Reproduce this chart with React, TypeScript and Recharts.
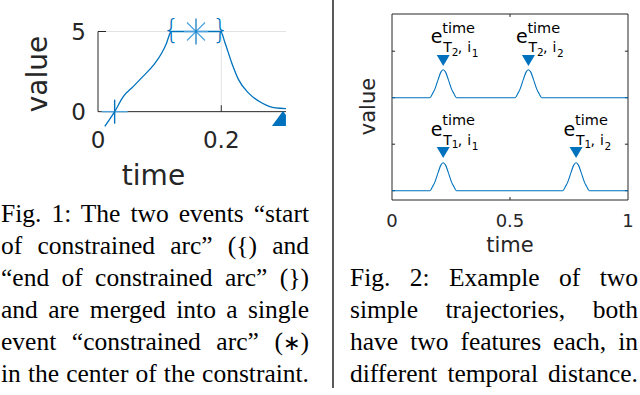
import React from 'react';
import { ComposedChart, Line, Scatter, XAxis, YAxis, ReferenceLine, ReferenceArea } from 'recharts';

const BLUE = '#0072BD';
const LIGHT_BLUE = '#4DA3DF';
const AXIS = '#262626';
const GRID = '#e3e3e3';
const SANS = 'DejaVu Sans';
const SERIF = 'Liberation Serif';

// Fig. 1 - one trajectory with a constrained arc
const arcTime = [0.011, 0.027, 0.041, 0.057, 0.073, 0.09, 0.103, 0.111, 0.117, 0.119, 0.159, 0.199, 0.206, 0.217, 0.228, 0.244, 0.266, 0.288, 0.305];
const arcValue = [-0.92, 0, 0.94, 1.56, 2.2, 2.9, 3.63, 4.25, 4.9, 5, 5, 5, 4.3, 3.04, 2.0, 1.17, 0.54, 0.23, 0.19];
const eventTime = [0.027, 0.119, 0.159, 0.199, 0.3];
const eventValue = [0, 5, 5, 5, -0.45];
const eventKind = ['plus', 'open', 'star', 'close', 'triangle'];
const fig1TimeTicks = [0, 0.2];
const fig1ValueTicks = [0, 5];

// Fig. 2 - two trajectories, two features each
const traj1Time = [0, 0.161, 0.172, 0.182, 0.196, 0.207, 0.217, 0.227, 0.238, 0.252, 0.262, 0.273, 0.724, 0.735, 0.745, 0.759, 0.77, 0.78, 0.79, 0.801, 0.815, 0.825, 0.836, 1];
const traj1Value = [0, 0, 0.045, 0.095, 0.2, 0.275, 0.3, 0.275, 0.2, 0.095, 0.045, 0, 0, 0.045, 0.095, 0.2, 0.275, 0.3, 0.275, 0.2, 0.095, 0.045, 0, 0];
const traj2Time = [0, 0.161, 0.172, 0.182, 0.196, 0.207, 0.217, 0.227, 0.238, 0.252, 0.262, 0.273, 0.522, 0.533, 0.543, 0.557, 0.568, 0.578, 0.588, 0.599, 0.613, 0.623, 0.634, 1];
const traj2Value = [1, 1, 1.045, 1.095, 1.2, 1.275, 1.3, 1.275, 1.2, 1.095, 1.045, 1, 1, 1.045, 1.095, 1.2, 1.275, 1.3, 1.275, 1.2, 1.095, 1.045, 1, 1];
const featureTime = [0.217, 0.578, 0.217, 0.78];
const featureValue = [1.395, 1.395, 0.405, 0.405];
const featureTraj = ['2', '2', '1', '1'];
const featureIdx = ['1', '2', '1', '2'];
const fig2TimeTicks = [0, 0.5, 1];
const fig2ValueTicks = [0, 0.5, 1, 1.5];

const caption1 = [
  'Fig. 1: The two events \u201Cstart',
  'of constrained arc\u201D ({) and',
  '\u201Cend of constrained arc\u201D (})',
  'and are merged into a single',
  'event \u201Cconstrained arc\u201D (\u2217)',
  'in the center of the constraint.',
];
const caption2 = [
  'Fig. 2: Example of two',
  'simple trajectories, both',
  'have two features each, in',
  'different temporal distance.',
];

const arcData = arcTime.map((t, i) => ({ t, v: arcValue[i] }));
const eventData = eventTime.map((t, i) => ({ t, v: eventValue[i], kind: eventKind[i] }));
const traj1Data = traj1Time.map((t, i) => ({ t, v: traj1Value[i] }));
const traj2Data = traj2Time.map((t, i) => ({ t, v: traj2Value[i] }));
const featureData = featureTime.map((t, i) => ({ t, v: featureValue[i], traj: featureTraj[i], idx: featureIdx[i] }));

const EventMarker = (props: any) => {
  const { cx, cy, payload } = props;
  if (cx == null || cy == null) return null;
  switch (payload.kind) {
    case 'plus':
      return (
        <g strokeWidth={1.4}>
          <line x1={cx - 13} y1={cy} x2={cx + 13} y2={cy} stroke={LIGHT_BLUE} />
          <line x1={cx} y1={cy - 12} x2={cx} y2={cy + 12} stroke={BLUE} />
        </g>
      );
    case 'star':
      return (
        <g strokeWidth={1.2}>
          <line x1={cx - 9} y1={cy - 9} x2={cx + 9} y2={cy + 9} stroke={LIGHT_BLUE} />
          <line x1={cx - 9} y1={cy + 9} x2={cx + 9} y2={cy - 9} stroke={LIGHT_BLUE} />
          <line x1={cx - 12} y1={cy} x2={cx + 12} y2={cy} stroke={LIGHT_BLUE} />
          <line x1={cx} y1={cy - 13} x2={cx} y2={cy + 13} stroke={BLUE} />
        </g>
      );
    case 'open':
    case 'close':
      return (
        <text x={cx} y={cy - 3} fontSize={27} fontFamily={SANS} fill={BLUE} textAnchor="middle" dominantBaseline="central" fontWeight={300}>
          {payload.kind === 'open' ? '{' : '}'}
        </text>
      );
    default:
      // filled upward triangle, cut off by the right edge of the axes
      return <polygon points={`${cx},${cy - 8} ${cx + 3},${cy - 4} ${cx + 3},${cy + 7} ${cx - 11},${cy + 7}`} fill={BLUE} />;
  }
};

const FeatureMarker = (props: any) => {
  const { cx, cy, payload } = props;
  if (cx == null || cy == null) return null;
  return (
    <g fontFamily={SANS} fill="#000">
      <polygon points={`${cx - 6.5},${cy - 6} ${cx + 6.5},${cy - 6} ${cx},${cy + 5}`} fill={BLUE} />
      <text x={cx - 12.5} y={cy - 17.5} fontSize={19}>e</text>
      <text x={cx - 1} y={cy - 28} fontSize={14.5}>time</text>
      <text x={cx} y={cy - 8.5} fontSize={14}>T</text>
      <text x={cx + 8.5} y={cy - 5} fontSize={10.5}>{payload.traj}</text>
      <text x={cx + 14.5} y={cy - 8.5} fontSize={14}>,</text>
      <text x={cx + 24} y={cy - 8.5} fontSize={14}>i</text>
      <text x={cx + 28.5} y={cy - 3.5} fontSize={10.5}>{payload.idx}</text>
    </g>
  );
};

const CaptionText = ({ text }: { text: string }) => {
  const parts = text.split('\u2217');
  if (parts.length === 1) return <>{text}</>;
  return (
    <>
      {parts[0]}
      <span style={{ fontFamily: SANS, fontSize: 21, fontWeight: 'normal' }}>{'\u2217'}</span>
      {parts[1]}
    </>
  );
};

const CaptionLines = ({ lines, left, width, first }: { lines: string[]; left: number; width: number; first: number }) => (
  <>
    {lines.map((text, i) => (
      <div
        key={i}
        style={{
          position: 'absolute',
          left,
          top: 201 + (first + i) * 31.9,
          width,
          fontFamily: SERIF,
          fontSize: 25.5,
          lineHeight: '25.5px',
          textAlign: 'justify',
          textAlignLast: 'justify',
          color: '#000',
        }}
      >
        <CaptionText text={text} />
      </div>
    ))}
  </>
);

export default function App() {
  return (
    <div style={{ position: 'absolute', left: 0, top: 0, width: 640, height: 395, background: '#fff', overflow: 'hidden' }}>
      <div style={{ position: 'absolute', left: 0, top: 0 }}>
        <ComposedChart width={320} height={200} margin={{ top: 23.5, right: 34, left: 38, bottom: 38.3 }}>
          <XAxis
            type="number"
            dataKey="t"
            domain={[0, 0.305]}
            ticks={fig1TimeTicks}
            interval={0}
            height={30}
            axisLine={false}
            tickLine={false}
            tickSize={0}
            tickMargin={0}
            tick={{ fontSize: 23, fill: AXIS, fontFamily: SANS }}
          />
          <YAxis
            type="number"
            domain={[-1.25, 5.5]}
            ticks={fig1ValueTicks}
            interval={0}
            width={60}
            axisLine={false}
            tickLine={false}
            tickSize={0}
            tickMargin={12}
            tick={{ fontSize: 23, fill: AXIS, fontFamily: SANS }}
          />
          <ReferenceLine segment={[{ x: 0.013, y: 5 }, { x: 0.305, y: 5 }]} stroke={GRID} strokeWidth={1} />
          <ReferenceLine segment={[{ x: 0.2, y: 0.4 }, { x: 0.2, y: 5 }]} stroke={GRID} strokeWidth={1} />
          <ReferenceLine segment={[{ x: 0, y: 5 }, { x: 0.013, y: 5 }]} stroke={AXIS} strokeWidth={1} />
          <ReferenceLine segment={[{ x: 0.2, y: 0 }, { x: 0.2, y: 0.4 }]} stroke={AXIS} strokeWidth={1} />
          <ReferenceLine segment={[{ x: 0, y: 0 }, { x: 0, y: 5 }]} stroke={AXIS} strokeWidth={1} />
          <ReferenceLine segment={[{ x: 0, y: 0 }, { x: 0.305, y: 0 }]} stroke={AXIS} strokeWidth={1} />
          <Line data={arcData} dataKey="v" type="monotone" stroke={BLUE} strokeWidth={1.3} dot={false} isAnimationActive={false} />
          <Scatter data={eventData} dataKey="v" shape={EventMarker} isAnimationActive={false} />
        </ComposedChart>
      </div>

      <div style={{ position: 'absolute', left: 330, top: 0 }}>
        <ComposedChart width={310} height={270} margin={{ top: 14, right: 12, left: 62, bottom: 30 }}>
          <XAxis
            type="number"
            dataKey="t"
            domain={[0, 1]}
            ticks={fig2TimeTicks}
            interval={0}
            height={40}
            axisLine={false}
            tickLine={false}
            tickSize={0}
            tickMargin={14}
            tick={{ fontSize: 18, fill: AXIS, fontFamily: SANS }}
          />
          <YAxis type="number" domain={[-0.1, 1.9]} hide width={0} />
          <ReferenceArea x1={0} x2={1} y1={-0.1} y2={1.9} fill="none" stroke={AXIS} strokeWidth={1} />
          {fig2ValueTicks.map((v) => (
            <ReferenceLine key={`l${v}`} segment={[{ x: 0, y: v }, { x: 0.013, y: v }]} stroke={AXIS} />
          ))}
          {fig2ValueTicks.map((v) => (
            <ReferenceLine key={`r${v}`} segment={[{ x: 0.987, y: v }, { x: 1, y: v }]} stroke={AXIS} />
          ))}
          <ReferenceLine segment={[{ x: 0.5, y: -0.1 }, { x: 0.5, y: -0.068 }]} stroke={AXIS} />
          <ReferenceLine segment={[{ x: 0.5, y: 1.868 }, { x: 0.5, y: 1.9 }]} stroke={AXIS} />
          <Line data={traj1Data} dataKey="v" type="monotone" stroke={BLUE} strokeWidth={1.1} dot={false} isAnimationActive={false} />
          <Line data={traj2Data} dataKey="v" type="monotone" stroke={BLUE} strokeWidth={1.1} dot={false} isAnimationActive={false} />
          <Scatter data={featureData} dataKey="v" shape={FeatureMarker} isAnimationActive={false} />
        </ComposedChart>
      </div>

      <svg width={640} height={395} style={{ position: 'absolute', left: 0, top: 0, pointerEvents: 'none' }}>
        <line x1={333} y1={0} x2={333} y2={388} stroke="#000" strokeWidth={1.3} />
        <g fontFamily={SANS} fill={AXIS}>
          <text x={153.5} y={185} fontSize={28} textAnchor="middle">time</text>
          <text transform="translate(46.5,74) rotate(-90)" fontSize={28} textAnchor="middle">value</text>
          <text x={510} y={252} fontSize={21} textAnchor="middle">time</text>
          <text transform="translate(375,106.5) rotate(-90)" fontSize={21} textAnchor="middle">value</text>
        </g>
      </svg>

      <CaptionLines lines={caption1} left={1} width={308} first={0} />
      <CaptionLines lines={caption2} left={350} width={288} first={2} />
    </div>
  );
}
